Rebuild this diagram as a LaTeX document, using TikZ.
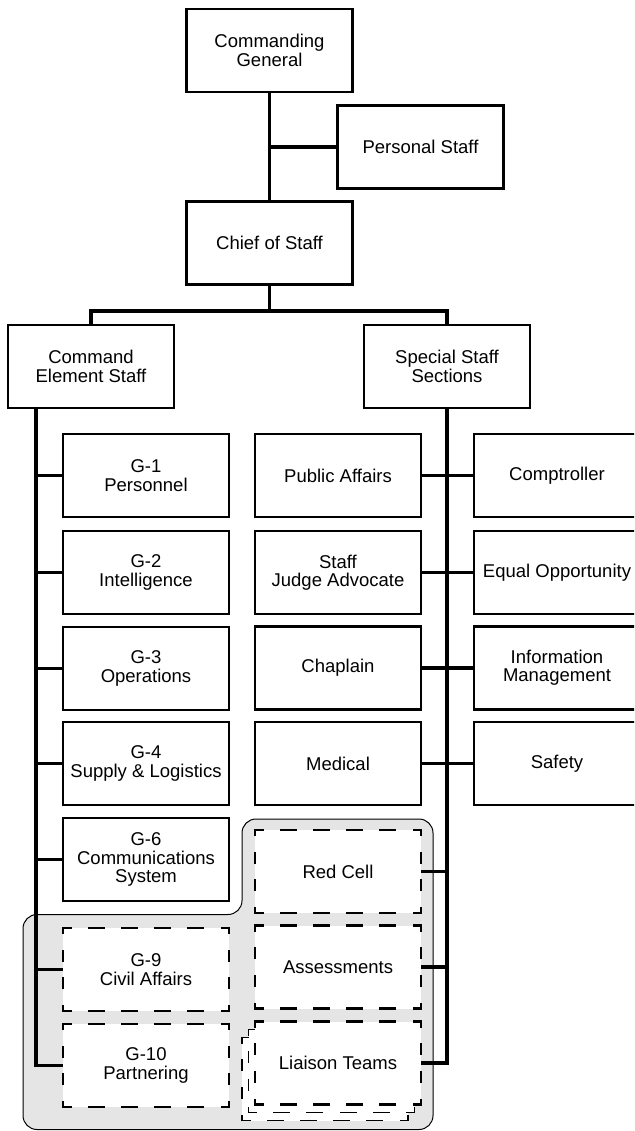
\documentclass[tikz,border=0pt]{standalone}
\usepackage{fontspec}
\setmainfont{Liberation Sans}
\begin{document}
\newcommand\lbl{\fontsize{18.5}{18.4}\selectfont}
\definecolor{panel}{HTML}{E5E5E5}
\tikzset{
  box/.style={draw, line width=2.6pt, fill=white, minimum width=166pt,
    minimum height=83pt, inner sep=0pt, outer sep=0pt, align=center, font=\lbl},
  dbox/.style={box, draw=none},
  link/.style={line width=3.5pt},
  % dashed frame sides: each side starts and ends with a half dash
  hdashA/.style={line width=2.7pt, line cap=rect, dash pattern=on 14.3pt off 18.9pt, dash phase=7.15pt},
  vdashA/.style={line width=2.7pt, line cap=rect, dash pattern=on 9.3pt off 18.4pt, dash phase=4.65pt},
  hdashB/.style={line width=1.3pt, line cap=rect, dash pattern=on 15.7pt off 17.5pt, dash phase=7.85pt},
  vdashB/.style={line width=1.3pt, line cap=rect, dash pattern=on 10.7pt off 17pt, dash phase=5.35pt},
}
% dashed outline of a node: #1 node, #2 horizontal style, #3 vertical style
\newcommand\dashframe[3]{%
  \draw[#2] (#1.north west) -- (#1.north east);
  \draw[#2] (#1.south west) -- (#1.south east);
  \draw[#3] (#1.north west) -- (#1.south west);
  \draw[#3] (#1.north east) -- (#1.south east);
}
\begin{tikzpicture}[x=1pt,y=-1pt]
\clip (0,0) rectangle (634,1131);

% shaded panel behind the new sections
\draw[fill=panel, line width=1pt, rounded corners=14pt]
  (23,914.5) -- (242,914.5) -- (242,819) -- (433,819) -- (433,1129.5)
  -- (23,1129.5) -- cycle;

% command group
\node[box] (cg)  at (269.5,50.5) {Commanding\\General};
\node[box] (ps)  at (420.5,147)  {Personal Staff};
\node[box] (cos) at (269.5,243)  {Chief of Staff};
\node[box] (ces) at (91,366.5)   {Command\\Element Staff};
\node[box] (sss) at (447,366.5)  {Special Staff\\Sections};

% coordinating staff column
\node[box] (g1) at (146,475.5) {G-1\\Personnel};
\node[box] (g2) at (146,572.5) {G-2\\Intelligence};
\node[box] (g3) at (146,668.5) {G-3\\Operations};
\node[box] (g4) at (146,763.5) {G-4\\Supply \& Logistics};
\node[box] (g6) at (146,859.5) {G-6\\Communications\\System};
\node[dbox] (g9)  at (146,969.5)  {G-9\\Civil Affairs};
\node[dbox] (g10) at (146,1065.5) {G-10\\Partnering};

% special staff, inner column
\node[box] (pa)  at (338,475.5) {Public Affairs};
\node[box] (sja) at (338,572.5) {Staff\\Judge Advocate};
\node[box] (chp) at (338,668)   {Chaplain};
\node[box] (med) at (338,763.5) {Medical};
\node[dbox] (red) at (338,871.5) {Red Cell};
\node[dbox] (asm) at (338,967)   {Assessments};
\node[dbox] (lnC) at (325,1079)  {};
\node[dbox] (lnB) at (331.5,1071) {};
\node[dbox] (lno) at (338,1063)  {Liaison Teams};

% special staff, outer column
\node[box] (cmp) at (557,475.5) {Comptroller};
\node[box] (eo)  at (557,572.5) {Equal Opportunity};
\node[box] (im)  at (557,668)   {Information\\Management};
\node[box] (saf) at (557,763.5) {Safety};

% dashed outlines
\dashframe{g9}{hdashA}{vdashA}
\dashframe{g10}{hdashA}{vdashA}
\dashframe{red}{hdashA}{vdashA}
\dashframe{asm}{hdashA}{vdashA}

% stacked liaison outlines, back to front
\begin{scope}
\fill[white] (lnC.north west) rectangle (lnC.south east);
\dashframe{lnC}{hdashB}{vdashB}
\fill[white] (lnB.north west) rectangle (lnB.south east);
\dashframe{lnB}{hdashB}{vdashB}
\fill[white] (lno.north west) rectangle (lno.south east);
\node[font=\lbl] at (lno) {Liaison Teams};
\dashframe{lno}{hdashA}{vdashA}
\end{scope}

% connectors
\coordinate (bus) at (269.5,311);
\coordinate (lt) at (36,408);
\draw[link] (cg.south) -- (cos.north);
\draw[link] (cg.south |- ps.west) -- (ps.west);
\draw[link] (cos.south) -- (bus);
\draw[link] (ces.north) |- (bus) -| (sss.north);

\draw[link] (lt) |- (g10.west);
\foreach \n in {g1,g2,g3,g4,g6,g9}
  \draw[link] (lt |- \n.west) -- (\n.west);

\draw[link] (sss.south) |- (lno.east);
\draw[link] (pa.east)  -- (cmp.west);
\draw[link] (sja.east) -- (eo.west);
\draw[link] (chp.east) -- (im.west);
\draw[link] (med.east) -- (saf.west);
\draw[link] (red.east) -- (sss.south |- red.east);
\draw[link] (asm.east) -- (sss.south |- asm.east);
\end{tikzpicture}
\end{document}
